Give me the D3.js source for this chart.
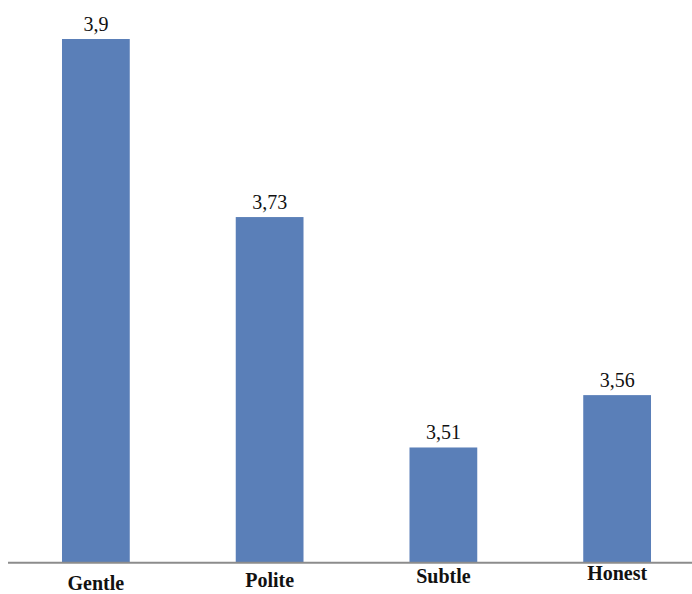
<!DOCTYPE html>
<html>
<head>
<meta charset="utf-8">
<script src="https://cdn.jsdelivr.net/npm/d3@7"></script>
<style>
  html, body { margin: 0; padding: 0; background: #fff; }
  svg { display: block; }
  text { font-family: 'Liberation Serif', 'DejaVu Serif', 'Times New Roman', serif; }
</style>
</head>
<body>
<svg id="chart"></svg>
<script>
'use strict';

const categories = ['Gentle', 'Polite', 'Subtle', 'Honest'];
const values = [3.9, 3.73, 3.51, 3.56];
const valueLabels = ['3,9', '3,73', '3,51', '3,56'];

const opts = {
	width: 692,
	height: 594,
	baseline: 562.7,
	top: 39,
	barColor: '#5a7fb8',
	axisColor: '#8c8c8c'
};

const svg = d3.select('#chart')
	.attr('width', opts.width)
	.attr('height', opts.height);

const x = d3.scaleBand()
	.domain(categories)
	.range([9, 704])
	.paddingInner(0.61)
	.paddingOuter(0.305);

const y = d3.scaleLinear()
	.domain([3.4, 3.9])
	.range([opts.baseline, opts.top]);

const data = categories.map((c, i) => ({ cat: c, val: values[i], label: valueLabels[i] }));

// bars
svg.append('g')
	.selectAll('rect')
	.data(data)
	.join('rect')
	.attr('x', d => x(d.cat))
	.attr('y', d => y(d.val))
	.attr('width', x.bandwidth())
	.attr('height', d => opts.baseline - y(d.val))
	.attr('fill', opts.barColor);

// value labels above bars
svg.append('g')
	.selectAll('text')
	.data(data)
	.join('text')
	.attr('x', d => x(d.cat) + x.bandwidth() / 2)
	.attr('y', d => y(d.val) - 8)
	.attr('text-anchor', 'middle')
	.attr('font-size', 20)
	.attr('fill', '#111')
	.text(d => d.label);

// baseline axis
svg.append('line')
	.attr('x1', 8)
	.attr('x2', 692)
	.attr('y1', opts.baseline)
	.attr('y2', opts.baseline)
	.attr('stroke', opts.axisColor)
	.attr('stroke-width', 2);

// category labels, each one sits a little higher than the previous
svg.append('g')
	.selectAll('text')
	.data(data)
	.join('text')
	.attr('x', d => x(d.cat) + x.bandwidth() / 2)
	.attr('y', (d, i) => 590 - i * 3.3)
	.attr('text-anchor', 'middle')
	.attr('font-weight', 'bold')
	.attr('font-size', 20)
	.attr('fill', '#111')
	.text(d => d.cat);
</script>
</body>
</html>
